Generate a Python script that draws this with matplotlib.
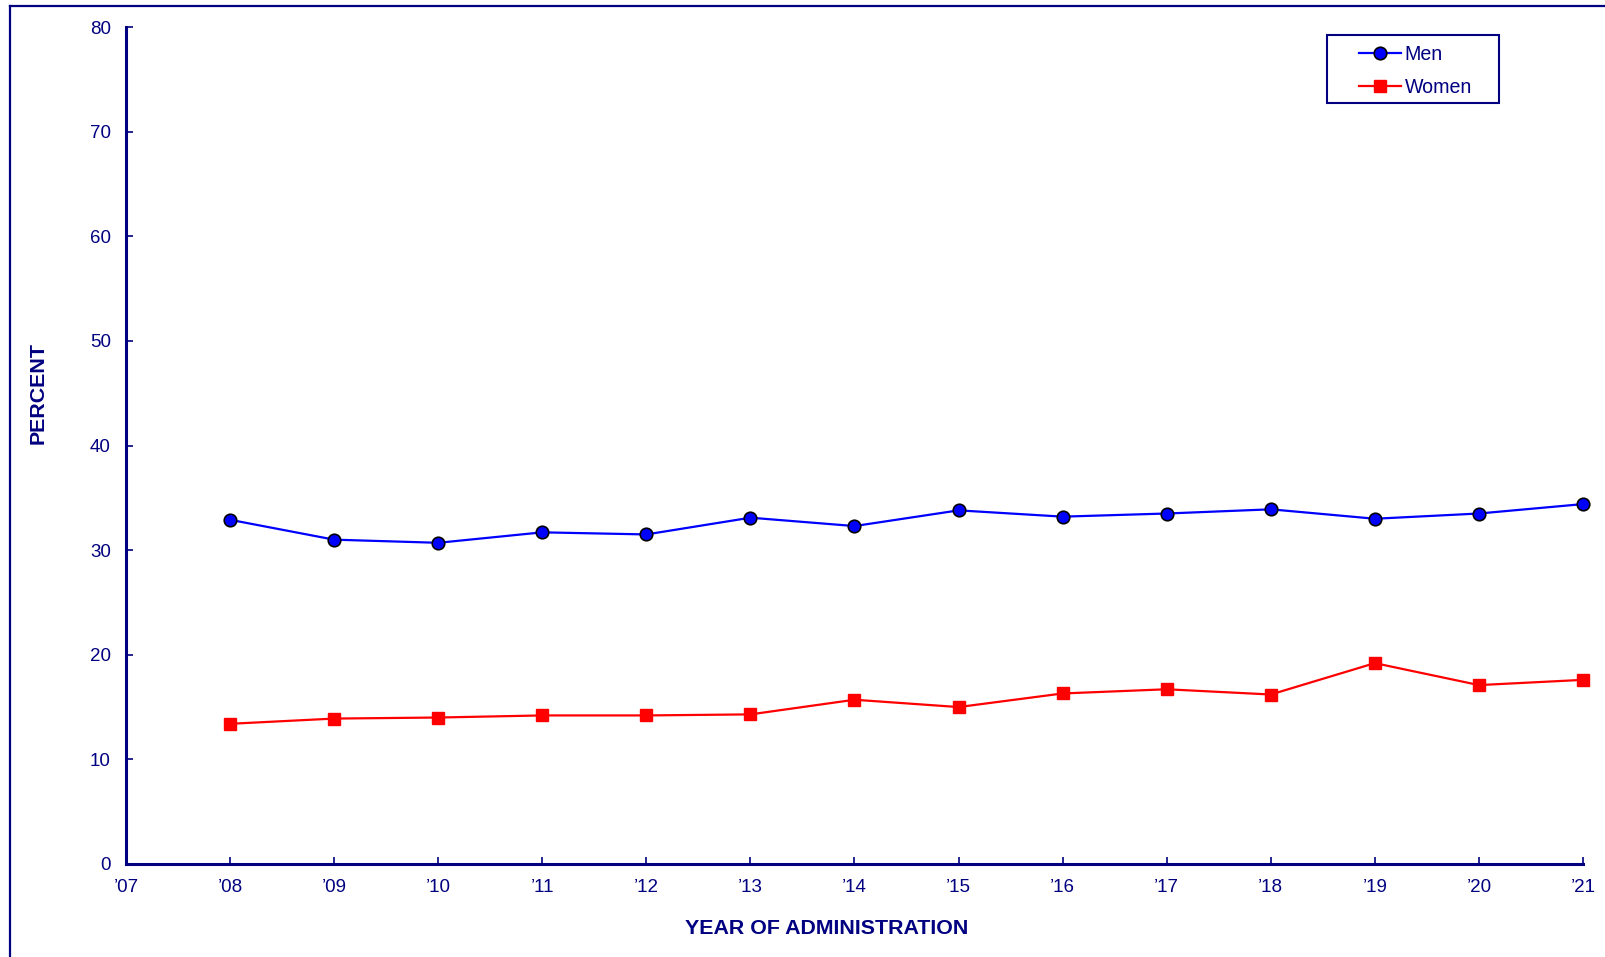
import numpy as np
import matplotlib
matplotlib.use("Agg")
import matplotlib.pyplot as plt
from matplotlib.lines import Line2D
from matplotlib.patches import Rectangle

plt.rcParams['font.family'] = ['Liberation Sans', 'DejaVu Sans']

years = [2008, 2009, 2010, 2011, 2012, 2013, 2014, 2015, 2016, 2017, 2018, 2019, 2020, 2021]
men = [32.9, 31.0, 30.7, 31.7, 31.5, 33.1, 32.3, 33.8, 33.2, 33.5, 33.9, 33.0, 33.5, 34.4]
women = [13.4, 13.9, 14.0, 14.2, 14.2, 14.3, 15.7, 15.0, 16.3, 16.7, 16.2, 19.2, 17.1, 17.6]
xticks = list(range(2007, 2022))
xlabels = ["\u2019%02d" % (y % 100) for y in xticks]
yticks = [0, 10, 20, 30, 40, 50, 60, 70, 80]

navy = '#000080'
W, H = 1606, 957

fig = plt.figure(figsize=(W / 100, H / 100), dpi=100)
ax = fig.add_axes([126 / W, 1 - 864 / H, (1583 - 126) / W, (864 - 27) / H])

ax.plot(years, men, color='#0000ff', lw=1.6, marker='o', ms=9,
        mfc='#0000ff', mec='black', mew=1.2, label='Men', clip_on=False, zorder=3)
ax.plot(years, women, color='#ff0000', lw=1.6, marker='s', ms=8.5,
        mfc='#ff0000', mec='#ff0000', label='Women', clip_on=False, zorder=3)

ax.set_xlim(2007, 2021)
ax.set_ylim(0, 80)
ax.set_xticks(xticks)
ax.set_xticklabels(xlabels)
ax.set_yticks(yticks)

for s in ['top', 'right']:
    ax.spines[s].set_visible(False)
for s in ['left', 'bottom']:
    ax.spines[s].set_color(navy)
    ax.spines[s].set_linewidth(2.2)

ax.tick_params(axis='both', direction='in', length=5, width=1.2, color=navy,
               labelcolor=navy, labelsize=13.5)
ax.tick_params(axis='x', pad=11)
ax.tick_params(axis='y', pad=11)

ax.set_xlabel('YEAR OF ADMINISTRATION', color=navy, fontsize=15.4, fontweight='bold')
ax.xaxis.set_label_coords(0.481, -0.066)
ax.set_ylabel('PERCENT', color=navy, fontsize=15.4, fontweight='bold')
ax.yaxis.set_label_coords(-0.054, 0.563)

# legend box
fig.add_artist(Rectangle((1327 / W, 1 - 103 / H), (1499 - 1327) / W, (103 - 35) / H,
                         transform=fig.transFigure, fill=False, ec=navy, lw=1.5))
ax.legend(loc='upper left', bbox_to_anchor=(1349 / W, 1 - 35 / H),
          bbox_transform=fig.transFigure, frameon=False, fontsize=14.1,
          handlelength=2.15, handletextpad=0.2, borderpad=0, labelspacing=0.72,
          labelcolor=navy)

# outer frame (cut off at right and bottom)
fig.add_artist(Line2D([10 / W, 10 / W], [0, 1 - 6 / H], transform=fig.transFigure,
                      color=navy, lw=1.6))
fig.add_artist(Line2D([10 / W, 1], [1 - 6 / H, 1 - 6 / H], transform=fig.transFigure,
                      color=navy, lw=1.6))

fig.savefig('out.png', dpi=100)
